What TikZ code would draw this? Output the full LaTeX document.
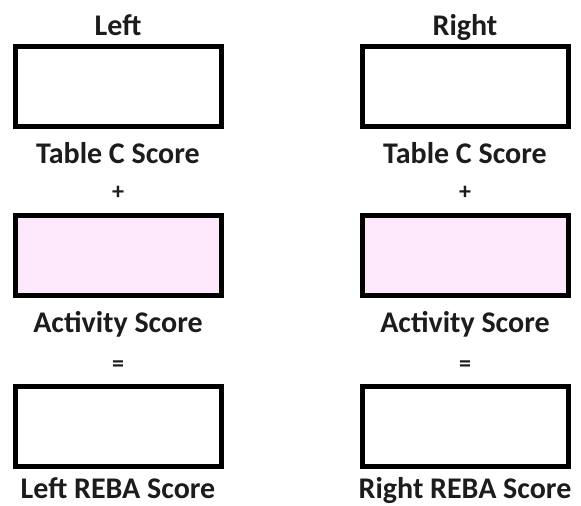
\documentclass[tikz,border=0pt]{standalone}
\usepackage{fontspec}
\setmainfont{Carlito}
\usetikzlibrary{positioning}

\definecolor{actpink}{RGB}{252,232,250}
\definecolor{inkgray}{RGB}{28,28,28}

\begin{document}
\begin{tikzpicture}[
  x=1pt, y=-1pt,
  scorebox/.style={
    draw=black, line width=5pt, rectangle,
    minimum width=206pt, minimum height=80pt, inner sep=0pt
  },
  actbox/.style={scorebox, fill=actpink},
  caption/.style={anchor=base, inner sep=0pt, text=inkgray,
                  font=\fontsize{30}{36}\selectfont\bfseries},
  opsign/.style={inner sep=0pt, text=inkgray,
                 font=\fontsize{24}{28}\selectfont\bfseries}
]
\useasboundingbox (0,0) rectangle (581,506);

%--- Left column ---
\node[caption]  (lhead)  at (118,35)  {Left};
\node[scorebox] (ltable) at (118,86)  {};
\node[caption]  (ltlab)  at (118,163) {Table C Score};
\node[opsign]   (lplus)  at (118,193) {+};
\node[actbox]   (lact)   at (118,255) {};
\node[caption]  (lalab)  at (118,332) {Activity Score};
\node[opsign]   (leq)    at (118,366) {=};
\node[scorebox] (lreba)  at (118,426) {};
\node[caption]  (lrlab)  at (118,498) {Left REBA Score};

%--- Right column ---
\node[caption]  (rhead)  at (465,35)  {Right};
\node[scorebox] (rtable) at (465,86)  {};
\node[caption]  (rtlab)  at (465,163) {Table C Score};
\node[opsign]   (rplus)  at (465,193) {+};
\node[actbox]   (ract)   at (465,255) {};
\node[caption]  (ralab)  at (465,332) {Activity Score};
\node[opsign]   (req)    at (465,366) {=};
\node[scorebox] (rreba)  at (465,426) {};
\node[caption]  (rrlab)  at (465,498) {Right REBA Score};

\end{tikzpicture}
\end{document}
